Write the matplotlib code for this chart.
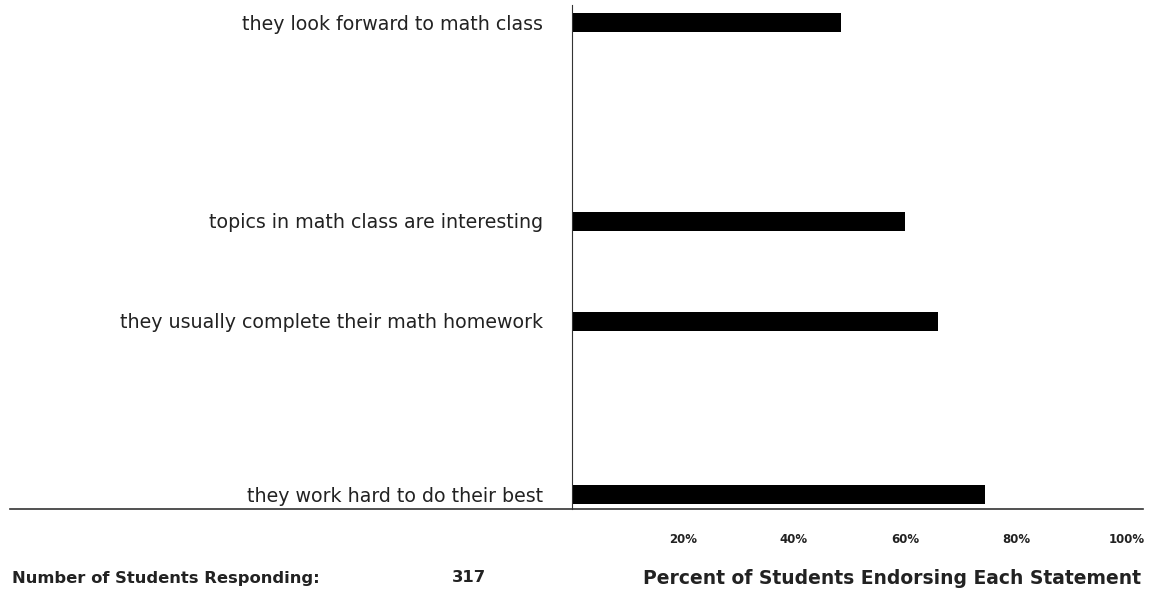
import matplotlib
matplotlib.use("Agg")
import matplotlib.pyplot as plt
from matplotlib.lines import Line2D

plt.rcParams['font.family'] = ['DejaVu Sans']

statements = [
    "they look forward to math class",
    "topics in math class are interesting",
    "they usually complete their math homework",
    "they work hard to do their best",
]
percent = [48.5, 60, 66, 74.5]
tick_vals = [20, 40, 60, 80, 100]
tick_labels = ["20%", "40%", "60%", "80%", "100%"]
n_students = 317

# vertical slot of each statement (uneven spacing, like the original)
slot = [22, 221, 321, 494]

W, H = 1154, 592
fig = plt.figure(figsize=(W / 100, H / 100), dpi=100)
ax = fig.add_axes([572 / W, 1 - 509 / H, 571 / W, 504 / H])

ax.barh(slot, percent, height=19, color="black")
ax.set_xlim(0, 571 / 5.55)
ax.set_ylim(509, 5)

ax.set_yticks(slot)
ax.set_yticklabels(statements, fontsize=13.7, color="#222222")
ax.tick_params(axis="y", length=0, pad=21)
ax.set_xticks(tick_vals)
ax.set_xticklabels(tick_labels, fontsize=8.5, fontweight="bold", color="#222222")
ax.tick_params(axis="x", length=0, pad=17)

for s in ["top", "right", "bottom"]:
    ax.spines[s].set_visible(False)
ax.spines["left"].set_linewidth(0.8)
ax.spines["left"].set_color("#333333")

# baseline running under the labels too
fig.add_artist(Line2D([10 / W, 1143 / W], [1 - 509 / H, 1 - 509 / H],
                      transform=fig.transFigure, color="#333333", lw=1.2))

fig.text(12 / W, 1 - 578 / H, "Number of Students Responding:", fontsize=11.8,
         fontweight="bold", va="center", ha="left", color="#222222")
fig.text(452 / W, 1 - 578 / H, str(n_students), fontsize=11.8,
         fontweight="bold", va="center", ha="left", color="#222222")
fig.text(643 / W, 1 - 578 / H, "Percent of Students Endorsing Each Statement",
         fontsize=13.5, fontweight="bold", va="center", ha="left", color="#222222")

fig.savefig("out.png", dpi=100, facecolor="white")
